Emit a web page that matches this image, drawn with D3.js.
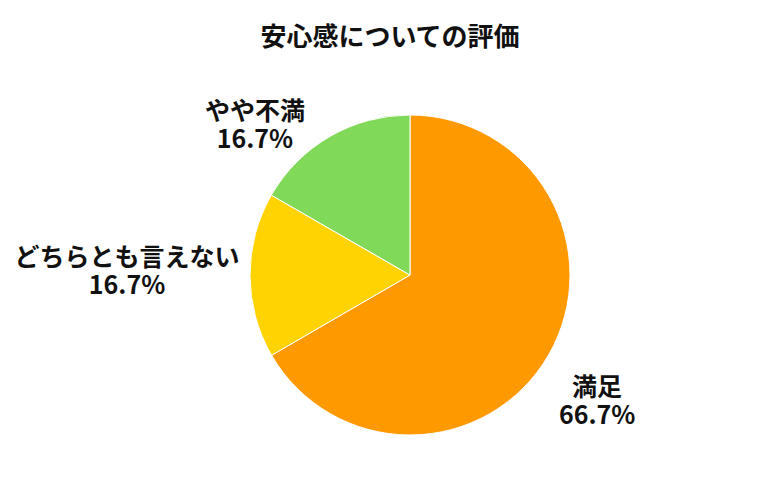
<!DOCTYPE html>
<html>
<head>
<meta charset="utf-8">
<script src="https://cdn.jsdelivr.net/npm/d3@7"></script>
<style>
  body { margin: 0; background: #fff; }
  text { font-family: "Noto Sans CJK JP", "Noto Sans", sans-serif; font-weight: bold; fill: #111; }
</style>
</head>
<body>
<div id="chart"></div>
<script>
// Data
const categories = ["満足", "どちらとも言えない", "やや不満"];
const values = [66.7, 16.7, 16.7];
const colors = ["#FF9900", "#FFD300", "#80D958"];
const title = "安心感についての評価";

const width = 780, height = 500;
const cx = 410, cy = 275, radius = 160;

const svg = d3.select("#chart")
  .append("svg")
  .attr("width", width)
  .attr("height", height);

// Title
svg.append("text")
  .attr("x", 390)
  .attr("y", 34)
  .attr("text-anchor", "middle")
  .attr("dominant-baseline", "central")
  .style("font-size", "26px")
  .text(title);

const data = categories.map((c, i) => ({ name: c, value: values[i], color: colors[i] }));

const pie = d3.pie().sort(null).value(d => d.value);
const arcs = pie(data);
const arc = d3.arc().innerRadius(0).outerRadius(radius);

const g = svg.append("g").attr("transform", "translate(" + cx + "," + cy + ")");

// Slices
g.selectAll("path")
  .data(arcs)
  .enter()
  .append("path")
  .attr("d", arc)
  .attr("fill", d => d.data.color)
  .attr("stroke", "#fff")
  .attr("stroke-width", 1);

// Labels: placed outward along the mid angle, then nudged so text clears the pie
const labelRadius = radius * 1.4;
const nudge = {
  "満足": [-7, 12],
  "どちらとも言えない": [-59, -6],
  "やや不満": [-43, 42]
};

const labels = g.selectAll("text.label")
  .data(arcs)
  .enter()
  .append("text")
  .attr("class", "label")
  .attr("text-anchor", "middle")
  .style("font-size", "25px")
  .attr("transform", d => {
    const a = (d.startAngle + d.endAngle) / 2;
    const n = nudge[d.data.name] || [0, 0];
    const x = Math.sin(a) * labelRadius + n[0];
    const y = -Math.cos(a) * labelRadius + n[1];
    return "translate(" + x + "," + y + ")";
  });

// two lines in one text element: name, then percentage
labels.append("tspan")
  .attr("x", 0)
  .attr("y", -14)
  .attr("dominant-baseline", "central")
  .text(d => d.data.name);

labels.append("tspan")
  .attr("x", 0)
  .attr("y", 14)
  .attr("dominant-baseline", "central")
  .text(d => d.data.value.toFixed(1) + "%");
</script>
</body>
</html>
